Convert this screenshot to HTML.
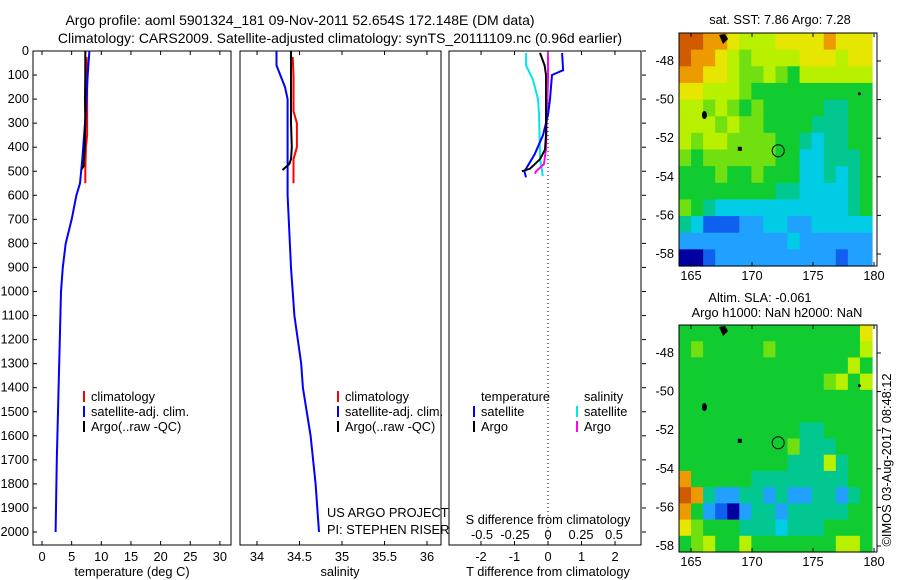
<!DOCTYPE html>
<html><head><meta charset="utf-8"><style>
body{margin:0;background:#fff;}
svg{display:block;font-family:"Liberation Sans",sans-serif;font-size:12.8px;}
</style></head><body>
<svg id="fig" width="900" height="580" viewBox="0 0 900 580" xmlns="http://www.w3.org/2000/svg">
<rect width="900" height="580" fill="#fff"/>
<text x="300" y="25" text-anchor="middle" style="font-size:14px">Argo profile: aoml 5901324_181 09-Nov-2011 52.654S 172.148E (DM data)</text>
<text x="340" y="43" text-anchor="middle" style="font-size:14px">Climatology: CARS2009. Satellite-adjusted climatology: synTS_20111109.nc (0.96d earlier)</text>
<text x="780" y="24" text-anchor="middle">sat. SST: 7.86 Argo: 7.28</text>
<text x="760" y="302" text-anchor="middle">Altim. SLA: -0.061</text>
<text x="777" y="317" text-anchor="middle">Argo h1000: NaN h2000: NaN</text>
<text transform="translate(891,460) rotate(-90)" text-anchor="middle">©IMOS 03-Aug-2017 08:48:12</text>
<g id="g"></g>
</svg>
<script>
// ---- data ----
const depthTicks = [0,100,200,300,400,500,600,700,800,900,1000,1100,1200,1300,1400,1500,1600,1700,1800,1900,2000];
const tempTicks = [0,5,10,15,20,25,30];
const salTicks = [34,34.5,35,35.5,36];
const salTickLabels = ["34","34.5","35","35.5","36"];
const tdiffTicks = [-2,-1,0,1,2];
const sdiffTicks = [-0.5,-0.25,0,0.25,0.5];
const sdiffTickLabels = ["-0.5","-0.25","0","0.25","0.5"];

const satDepth = [0,100,250,450,550,600,700,800,900,1000,1200,1400,1500,1700,2000];
const satTemp  = [8.0,7.7,7.4,6.8,6.4,5.8,5.0,4.0,3.5,3.2,3.0,2.8,2.7,2.5,2.3];
const argoDepth = [0,100,200,300,400,480,495];
const argoTemp  = [7.3,7.3,7.25,7.3,7.2,7.0,6.6];
const climDepth = [25,100,350,400,500,550];
const climTemp  = [7.5,7.6,7.6,7.4,7.3,7.3];

const satSalDepth = [0,60,150,200,250,600,900,1100,1300,1400,1600,1800,2000];
const satSal      = [34.23,34.23,34.33,34.36,34.36,34.36,34.40,34.44,34.52,34.54,34.63,34.69,34.73];
const argoSalDepth = [0,300,400,450,470,495];
const argoSal      = [34.40,34.40,34.41,34.40,34.38,34.30];
const climSalDepth = [25,100,250,300,400,450,550];
const climSal      = [34.42,34.43,34.43,34.47,34.47,34.43,34.43];

const dDepthSat = [8,80,100,200,265,350,430,500,525];
const dTsat     = [0.42,0.45,0.12,0.06,0.0,-0.15,-0.4,-0.7,-0.66];
const dDepthArgo = [8,60,100,350,410,450,490,500];
const dTargo     = [-0.24,-0.1,-0.06,-0.06,-0.09,-0.24,-0.54,-0.78];
const dSsatDepth = [8,60,120,200,260,450,500,520];
const dSsat      = [-0.166,-0.166,-0.114,-0.076,-0.068,-0.06,-0.044,-0.04];
const dSargoDepth = [8,120,410,470,500,510];
const dSargo      = [0,0,-0.016,-0.03,-0.09,-0.1];

const mapPalette = {r:"#d05a00",o:"#ec9a00",y:"#e6e600",Y:"#b8f000",g:"#70e010",G:"#10cc30",t:"#00c890",c:"#00cce6",b:"#20a0ff",B:"#1060f0",D:"#0000a0"};
const sstGrid = [
"rrooyYYYyyyyoyyy","rooyYgYYYYyyyYyy","ooyyYggYgGYYYYYY","yyYYYgGGGGGGGGGG",
"YYgYgGgGGGGGttGG","YYYgYggGGGGtttGG","YgYYggggGGtcttGG","gGggggggGGcctttG",
"GGGgGGgGGGcctctG","GGGGGGGGttcccctG","gGtccccccccccctG","tcBBBbbccbbccccc",
"bbbbbbbbbcbbbbbb","DDBbbbbbbbbbbBbb"];
const slaGrid = [
"GGGGGGGGGGGGGGGy","GgGGGGGgGGGGGGGY","GGGGGGGGGGGGGGYG","GGGGGGGGGGGGgYGY",
"GGGGGGGGGGGGGGGG","GGGGGGGGGGGGGGGG","GGGGGGGGGGttGGGG","GGGGGGGGGgtttGGG",
"GGGGGGGGGtttYtGG","oGGGGGttttttttGG","rotbbttbtbbttbtG","oGbBDbttbtttttGG",
"ygGGGtttctttGGGG","GgYGGYGGGGGGGYYG"];
const mapLonTicks = [165,170,175,180];
const mapLatTicks = [-48,-50,-52,-54,-56,-58];
const floatLon = 172.15, floatLat = -52.65;

// ---- helpers ----
const NS = "http://www.w3.org/2000/svg";
const G = document.getElementById("g");
function mk(tag, attrs, parent){ const e=document.createElementNS(NS,tag); for(const k in attrs) e.setAttribute(k,attrs[k]); (parent||G).appendChild(e); return e; }
function txt(x,y,s,anchor,parent){ const e=mk("text",{x:x,y:y,"text-anchor":anchor||"middle"},parent); e.textContent=s; return e; }
const Y0=51, YPX=0.2405;
const yD = d => Y0 + d*YPX;
const xT = t => 42 + t*5.93;
const xS = s => 257 + (s-34)*85;
const xDT = v => 548 + v*33.5;
const xDS = v => 548 + v*132;
function line(xs, ds, fx, color, name, w){
  const pts = xs.map((v,i)=>fx(v).toFixed(1)+","+yD(ds[i]).toFixed(1)).join(" ");
  const e = mk("polyline",{points:pts,fill:"none",stroke:color,"stroke-width":w||2});
  
  
  return e;
}
function panel(x0,x1,name){
  const r = mk("rect",{x:x0,y:51,width:x1-x0,height:494,fill:"none",stroke:"#000","stroke-width":1});
  
  
}
panel(33,231,"temperature-panel");
panel(240,441,"salinity-panel");
panel(449,641,"difference-panel");
depthTicks.forEach(d=>{
  mk("line",{x1:33,x2:37,y1:yD(d),y2:yD(d),stroke:"#000"});
  mk("line",{x1:642,x2:646,y1:yD(d),y2:yD(d),stroke:"#000"});
  const t = txt(29,yD(d)+4,String(d),"end");
  
  
});
tempTicks.forEach(v=>{
  mk("line",{x1:xT(v),x2:xT(v),y1:51,y2:55,stroke:"#000"});
  mk("line",{x1:xT(v),x2:xT(v),y1:545,y2:541,stroke:"#000"});
  const t=txt(xT(v),561,String(v));
  
  
});
salTicks.forEach((v,i)=>{
  mk("line",{x1:xS(v),x2:xS(v),y1:51,y2:55,stroke:"#000"});
  mk("line",{x1:xS(v),x2:xS(v),y1:545,y2:541,stroke:"#000"});
  const t=txt(xS(v),561,salTickLabels[i]);
  
  
});
tdiffTicks.forEach(v=>{
  mk("line",{x1:xDT(v),x2:xDT(v),y1:51,y2:55,stroke:"#000"});
  mk("line",{x1:xDT(v),x2:xDT(v),y1:545,y2:541,stroke:"#000"});
  const t=txt(xDT(v),561,String(v));
  
  
});
sdiffTicks.forEach((v,i)=>{
  const t=txt(xDS(v),539,sdiffTickLabels[i]);
  
  
});
mk("line",{x1:548,x2:548,y1:51,y2:545,stroke:"#000","stroke-dasharray":"1,3"});
[[132,576,"temperature (deg C)","temperature-axis-title"],[340,576,"salinity","salinity-axis-title"],[548,576,"T difference from climatology","t-diff-axis-title"],[548,524,"S difference from climatology","s-diff-axis-title"]].forEach(a=>{
  const t=txt(a[0],a[1],a[2]);
  
  
});
line(climTemp,climDepth,xT,"#f00","temp-climatology-line");
line(satTemp,satDepth,xT,"#00f","temp-satellite-line");
line(argoTemp,argoDepth,xT,"#000","temp-argo-line");
line(climSal,climSalDepth,xS,"#f00","sal-climatology-line");
line(satSal,satSalDepth,xS,"#00f","sal-satellite-line");
line(argoSal,argoSalDepth,xS,"#000","sal-argo-line");
line(dSsat,dSsatDepth,xDS,"#00e5ee","sdiff-satellite-line");
line(dSargo,dSargoDepth,xDS,"#f0f","sdiff-argo-line");
line(dTsat,dDepthSat,xDT,"#00f","tdiff-satellite-line");
line(dTargo,dDepthArgo,xDT,"#000","tdiff-argo-line");
function legend(x,y,color,label,name){
  mk("rect",{x:x,y:y-10,width:2,height:11,fill:color});
  const t=txt(x+8,y,label,"start");
  
  
}
legend(83,401,"#f00","climatology","legend-climatology");
legend(83,416,"#00f","satellite-adj. clim.","legend-satellite");
legend(83,431,"#000","Argo(..raw -QC)","legend-argo");
legend(337,401,"#f00","climatology","legend-climatology-2");
legend(337,416,"#00f","satellite-adj. clim.","legend-satellite-2");
legend(337,431,"#000","Argo(..raw -QC)","legend-argo-2");
txt(481,401,"temperature","start");
txt(584,401,"salinity","start");
legend(473,416,"#00f","satellite","legend-t-satellite");
legend(473,431,"#000","Argo","legend-t-argo");
legend(576,416,"#00e5ee","satellite","legend-s-satellite");
legend(576,431,"#f0f","Argo","legend-s-argo");
txt(327,517,"US ARGO PROJECT","start");
txt(327,534,"PI: STEPHEN RISER","start");
function map(grid, top, bottom, name){
  const x0=679, x1=872, fx=x=>691+(x-165)*12.2;
  const latTop=-46.55, fy=l=>top+(latTop-l)*19.3;
  const g = mk("g",{});
  
  
  const rows=grid.length, cols=grid[0].length, cw=(x1-x0)/cols, rh=(bottom-top)/rows;
  grid.forEach((row,i)=>{ for(let j=0;j<cols;j++){
    mk("rect",{x:x0+j*cw,y:top+i*rh,width:cw+0.6,height:rh+0.6,fill:mapPalette[row[j]]},g);
  }});
  mk("rect",{x:679,y:top,width:198,height:bottom-top,fill:"none",stroke:"#000"});
  mk("path",{d:`M${fx(167.3)} ${top+2}l6 -1l3 5l-5 5z`,fill:"#000"});
  mk("ellipse",{cx:fx(166.1),cy:fy(-50.8),rx:2.5,ry:4,fill:"#000"});
  mk("rect",{x:fx(169)-2,y:fy(-52.55)-2,width:4,height:4,fill:"#000"});
  mk("circle",{cx:fx(178.8),cy:fy(-49.7),r:1.5,fill:"#000"});
  const c = mk("circle",{cx:fx(floatLon),cy:fy(floatLat),r:6,fill:"none",stroke:"#000"});
  
  
  mapLonTicks.forEach(v=>{
    mk("line",{x1:fx(v),x2:fx(v),y1:top,y2:top+4,stroke:"#000"});
    mk("line",{x1:fx(v),x2:fx(v),y1:bottom,y2:bottom-4,stroke:"#000"});
    const t=txt(fx(v),bottom+14,String(v));
    
    
  });
  mapLatTicks.forEach(v=>{
    mk("line",{x1:877,x2:881,y1:fy(v),y2:fy(v),stroke:"#000"});
    const t=txt(674,fy(v)+4,String(v),"end");
    
    
  });
}
map(sstGrid,33,266,"sst-map");
map(slaGrid,325,552,"sla-map");
</script>
</body></html>
